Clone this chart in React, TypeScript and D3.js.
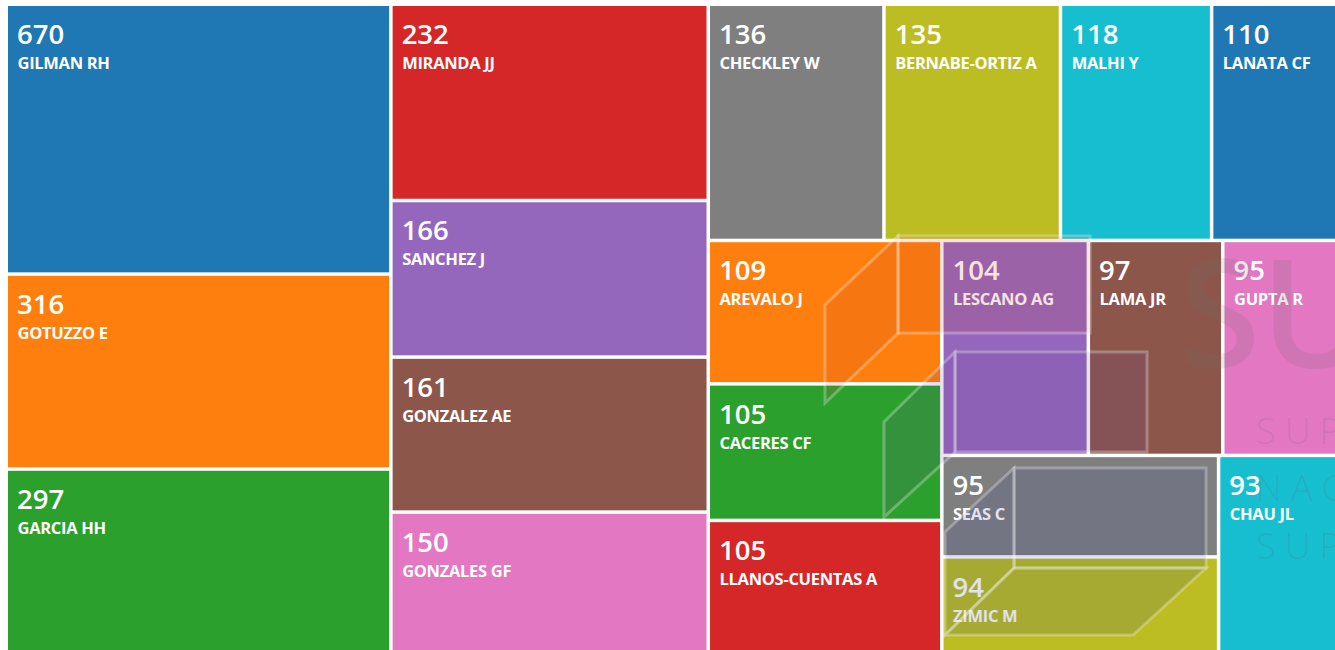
import React, { useMemo } from 'react';
import * as d3 from 'd3';

// ---- data ----
const authors = [
  'GILMAN RH', 'GOTUZZO E', 'GARCIA HH', 'MIRANDA JJ', 'SANCHEZ J', 'GONZALEZ AE', 'GONZALES GF',
  'CHECKLEY W', 'BERNABE-ORTIZ A', 'MALHI Y', 'LANATA CF', 'AREVALO J', 'CACERES CF',
  'LLANOS-CUENTAS A', 'LESCANO AG', 'LAMA JR', 'GUPTA R', 'SEAS C', 'ZIMIC M', 'CHAU JL',
];
const documents = [670, 316, 297, 232, 166, 161, 150, 136, 135, 118, 110, 109, 105, 105, 104, 97, 95, 95, 94, 93];
// relative tile sizes (as drawn in the reference)
const tileWeights = [1038, 750, 723, 623, 497, 492, 460, 415, 417, 357, 334, 335, 319, 319, 315, 289, 280, 281, 277, 271];
// nesting of the tiling: 'x' = children side by side, 'y' = stacked
const tiling: any = ['x',
  ['y', 0, 1, 2],
  ['y', 3, 4, 5, 6],
  ['y',
    ['x', 7, 8, 9, 10],
    ['x',
      ['y', 11, 12, 13],
      ['y',
        ['x', 14, 15, 16],
        ['x', ['y', 17, 18], 19],
      ],
    ],
  ],
];

const W = 1335;
const H = 650;
const OX = 6.25;
const OY = 4.25;
const TW = 1346.75;
const TH = 652.75;
const GAP = 3.5;

type Spec = { dir?: string; leaf?: number; children?: Spec[] };
function build(s: any): Spec {
  if (typeof s === 'number') return { leaf: s };
  return { dir: s[0], children: s.slice(1).map(build) };
}

const FONT = "'Open Sans', 'Noto Sans', sans-serif";

export default function App() {
  const leaves = useMemo(() => {
    const root = d3
      .hierarchy<Spec>(build(tiling), (d) => d.children)
      .sum((d) => (d.leaf !== undefined ? tileWeights[d.leaf] : 0));
    const tm = d3
      .treemap<Spec>()
      .size([TW, TH])
      .tile((node: any, x0, y0, x1, y1) =>
        (node.data.dir === 'x' ? d3.treemapDice : d3.treemapSlice)(node, x0, y0, x1, y1)
      );
    return tm(root).leaves();
  }, []);

  const wmStroke = 'rgba(255,255,255,0.28)';
  return (
    <div style={{ position: 'fixed', left: 0, top: 0, width: W, height: H, overflow: 'hidden', background: '#fff' }}>
      <svg width={W} height={H} style={{ display: 'block' }}>
        <g transform={`translate(${OX},${OY})`}>
          {leaves.map((l: any) => {
            const i = l.data.leaf as number;
            const x = l.x0 + GAP / 2;
            const y = l.y0 + GAP / 2;
            return (
              <g key={i}>
                <rect x={x} y={y} width={l.x1 - l.x0 - GAP} height={l.y1 - l.y0 - GAP}
                  fill={d3.schemeCategory10[i % 10]} />
                <text x={x + 9} y={y + 38} fill="#fff" fontFamily={FONT} fontWeight={600} fontSize={27.5}>
                  {documents[i]}
                </text>
                <text x={x + 9.5} y={y + 63} fill="#fff" fontFamily={FONT} fontWeight={700} fontSize={16.5}
                  letterSpacing={-0.3}>
                  {authors[i]}
                </text>
              </g>
            );
          })}
        </g>
        {/* watermark */}
        <g pointerEvents="none">
          <g fill="rgba(192,77,48,0.15)" stroke={wmStroke} strokeWidth={3} strokeLinejoin="miter">
            <polygon points="898,236 1090,236 1090,333 898,333" />
            <polygon points="898,236 825,305 825,403 898,333" />
          </g>
          <g fill="rgba(95,70,150,0.15)" stroke={wmStroke} strokeWidth={3}>
            <polygon points="955,352 1147,352 1147,452 955,452" />
            <polygon points="955,352 884,422 884,517 955,452" />
          </g>
          <g fill="rgba(50,70,145,0.15)" stroke={wmStroke} strokeWidth={3}>
            <polygon points="1014,468 1206,468 1206,568 1014,568" />
            <polygon points="1014,468 945,532 945,635 1014,568" />
            <polygon points="1014,568 1206,568 1133,635 945,635" />
          </g>
          <text x={1178} y={368} fontFamily={FONT} fontWeight={600} fontSize={150} fill="rgba(110,110,110,0.16)">
            SUNEDU
          </text>
          <g fontFamily={FONT} fontWeight={300} fontSize={36} fill="rgba(90,90,90,0.14)" letterSpacing={9}>
            <text x={1256} y={444}>SUPERINTENDENCIA</text>
            <text x={1256} y={501}>NACIONAL DE EDUCACIÓN</text>
            <text x={1256} y={559}>SUPERIOR UNIVERSITARIA</text>
          </g>
        </g>
      </svg>
    </div>
  );
}
